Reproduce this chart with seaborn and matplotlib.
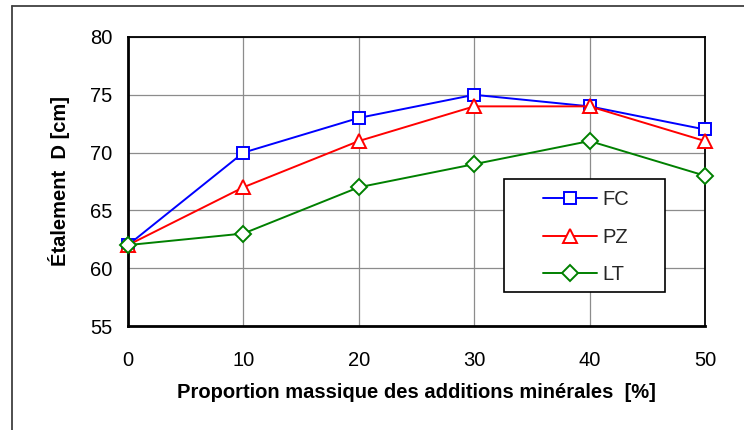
import matplotlib
matplotlib.use("Agg")
import matplotlib.pyplot as plt
from matplotlib.lines import Line2D
from matplotlib.patches import Rectangle
import seaborn as sns
import pandas as pd

x_vals = [0, 10, 20, 30, 40, 50]
fc = [62, 70, 73, 75, 74, 72]
pz = [62, 67, 71, 74, 74, 71]
lt = [62, 63, 67, 69, 71, 68]
series_names = ["FC", "PZ", "LT"]
colors = {"FC": "#0000ff", "PZ": "#ff0000", "LT": "#008000"}
markers = {"FC": "s", "PZ": "^", "LT": "D"}
xticks = [0, 10, 20, 30, 40, 50]
yticks = [55, 60, 65, 70, 75, 80]

df = pd.DataFrame({
    "x": x_vals * 3,
    "y": fc + pz + lt,
    "serie": ["FC"] * 6 + ["PZ"] * 6 + ["LT"] * 6,
})

sns.set_theme(style="white")
plt.rcParams["font.family"] = ["Liberation Sans", "DejaVu Sans"]

fig = plt.figure(figsize=(7.44, 4.30), dpi=100)
ax = fig.add_axes([128/744, 1-326/430, 577/744, 289/430])

ms = {"FC": 8.5, "PZ": 9.5, "LT": 7.8}
lw = 1.4
for name in series_names:
    sub = df[df["serie"] == name]
    sns.lineplot(data=sub, x="x", y="y", ax=ax, color=colors[name],
                 marker=markers[name], markersize=ms[name],
                 markerfacecolor="white", markeredgecolor=colors[name],
                 markeredgewidth=1.4, linewidth=lw, legend=False,
                 clip_on=False, zorder=3)

ax.set_xlim(0, 50)
ax.set_ylim(55, 80)
ax.set_xticks(xticks)
ax.set_yticks(yticks)
ax.grid(True, color="#8c8c8c", linewidth=0.9)
ax.tick_params(axis="x", length=0, pad=18, labelsize=14.5, colors="black")
ax.tick_params(axis="y", length=0, pad=11, labelsize=14.5, colors="black")
for s in ["top", "right"]:
    ax.spines[s].set_color("black")
    ax.spines[s].set_linewidth(1.3)
for s in ["left", "bottom"]:
    ax.spines[s].set_color("black")
    ax.spines[s].set_linewidth(2.0)

ax.set_xlabel("Proportion massique des additions minérales  [%]",
              fontsize=14.5, fontweight="bold", labelpad=9, color="black")
ax.set_ylabel("Étalement  D [cm]", fontsize=14.5, fontweight="bold",
              labelpad=15, color="black")

# legend frame
ax.add_patch(Rectangle((0.652, 0.118), 0.279, 0.391, transform=ax.transAxes,
                       facecolor="white", edgecolor="black", linewidth=1.2,
                       zorder=4, clip_on=False))
handles = [Line2D([], [], color=colors[n], marker=markers[n], markersize=ms[n],
                  markerfacecolor="white", markeredgecolor=colors[n],
                  markeredgewidth=1.4, linewidth=lw) for n in series_names]
leg = ax.legend(handles, series_names, loc="upper left",
                bbox_to_anchor=(0.719, 0.471), fontsize=14.5,
                frameon=False, handlelength=2.7, handletextpad=0.25,
                labelspacing=0.93, borderpad=0, borderaxespad=0)
leg.set_zorder(5)

# outer border lines (left and top)
fig.add_artist(Line2D([12/744, 12/744], [0, 1-6/430], transform=fig.transFigure,
                      color="#404040", linewidth=1.3))
fig.add_artist(Line2D([12/744, 1], [1-6/430, 1-6/430], transform=fig.transFigure,
                      color="#404040", linewidth=1.3))

fig.savefig("out.png", dpi=100)
